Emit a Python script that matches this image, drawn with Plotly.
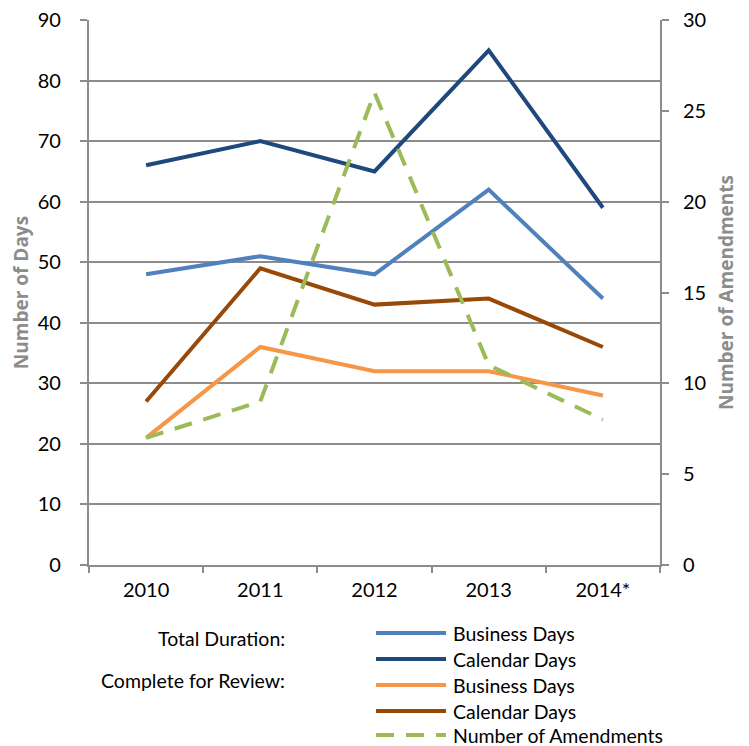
import plotly.graph_objects as go

years = ["2010", "2011", "2012", "2013", "2014*"]
total_business = [48, 51, 48, 62, 44]
total_calendar = [66, 70, 65, 85, 59]
review_business = [21, 36, 32, 32, 28]
review_calendar = [27, 49, 43, 44, 36]
amendments = [7, 9, 26, 11, 8]

series = [
    ("Business Days", total_business, "#4F81BD", "solid", "y"),
    ("Calendar Days", total_calendar, "#1F497D", "solid", "y"),
    ("Business Days", review_business, "#F79646", "solid", "y"),
    ("Calendar Days", review_calendar, "#984807", "solid", "y"),
    ("Number of Amendments", amendments, "#9BBB59", "18px,12px", "y2"),
]

FONT = "Lato, Open Sans, sans-serif"
TITLE_FONT = dict(family="Open Sans, Lato, sans-serif", size=19, color="#8C8C8C", weight=700)
fig = go.Figure()
for name, vals, color, dash, yax in series:
    fig.add_trace(go.Scatter(x=years, y=vals, name=name, mode="lines", yaxis=yax,
                             line=dict(color=color, width=4, dash=dash),
                             showlegend=False))

grid = "#8C8C8C"
TICK = 20
NB = "\u00a0"
fig.update_layout(
    width=741, height=738,
    margin=dict(l=81, r=89, t=12, b=181, autoexpand=False),
    paper_bgcolor="white", plot_bgcolor="white",
    font=dict(family=FONT, size=TICK, color="black"),
    xaxis=dict(type="category", range=[-0.5, 4.5], tickson="boundaries",
               ticks="outside", ticklen=6, tickcolor=grid, tickwidth=1.5,
               showline=True, linecolor=grid, linewidth=1.5, showgrid=False,
               tickfont=dict(size=TICK), ticklabelstandoff=6, automargin=False),
    yaxis=dict(range=[0, 90], dtick=10, ticks="outside", ticklen=7, tickcolor=grid,
               tickwidth=1.5, showline=True, linecolor=grid, linewidth=1.5,
               gridcolor=grid, gridwidth=1.5, zeroline=False, automargin=False,
               ticklabeloverflow="allow",
               tickfont=dict(size=TICK), ticksuffix=NB * 3,
               title=dict(text="Number of Days", font=TITLE_FONT, standoff=10)),
    yaxis2=dict(range=[0, 30], dtick=5, overlaying="y", side="right", ticks="outside",
                ticklen=7, tickcolor=grid, tickwidth=1.5, showline=True, linecolor=grid,
                linewidth=1.5, showgrid=False, zeroline=False, automargin=False,
                ticklabeloverflow="allow",
                tickfont=dict(size=TICK), tickprefix=NB * 2,
                title=dict(text="Number of Amendments", font=TITLE_FONT, standoff=14)),
)

# manual legend (paper coordinates derived from the reference layout)
def px_x(p):
    return (p - 89) / 571

def px_y(p):
    return (565 - p) / 545

rows = [633, 659, 685, 711, 735]
for (name, vals, color, dash, yax), ry in zip(series, rows):
    fig.add_shape(type="line", xref="paper", yref="paper",
                  x0=px_x(376), x1=px_x(446), y0=px_y(ry), y1=px_y(ry),
                  line=dict(color=color, width=4, dash=dash))
    fig.add_annotation(text=name, xref="paper", yref="paper", x=px_x(451), y=px_y(ry),
                       xanchor="left", yanchor="middle", showarrow=False,
                       font=dict(size=19.5))
for label, ry in [("Total Duration:", 638), ("Complete for Review:", 680)]:
    fig.add_annotation(text=label, xref="paper", yref="paper", x=px_x(287), y=px_y(ry),
                       xanchor="right", yanchor="middle", showarrow=False,
                       font=dict(size=19.5))

fig.write_html("out.html")
